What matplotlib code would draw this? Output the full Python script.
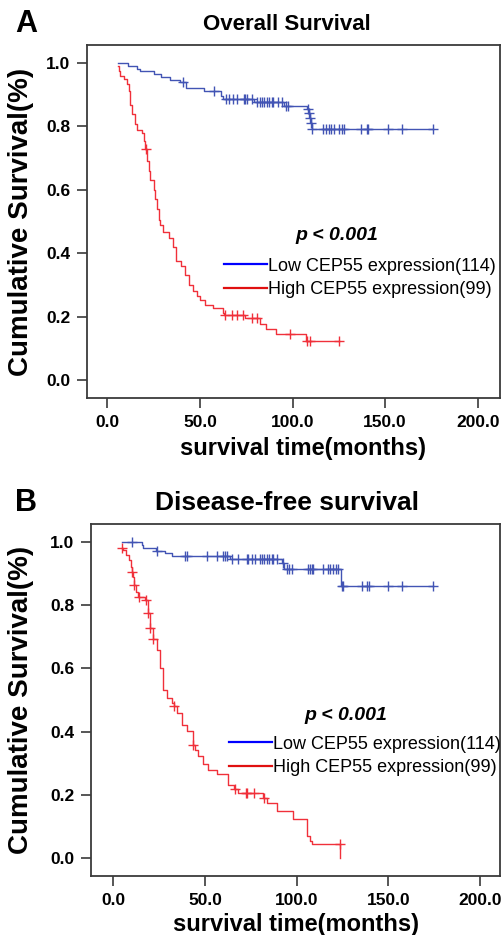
import numpy as np
import matplotlib
matplotlib.use("Agg")
import matplotlib.pyplot as plt
from matplotlib.lines import Line2D

plt.rcParams['font.family'] = ['Liberation Sans', 'DejaVu Sans']

# ---- data ----
# A: overall survival
os_low_t = [5.5, 11.1, 16.0, 17.8, 25.0, 29.1, 33.6, 39.4, 42.6, 52.0, 61.3, 62.5, 79.3,
            95.6, 107.7, 108.6, 109.3, 109.9, 110.4]
os_low_s = [1.0, 0.991, 0.982, 0.974, 0.965, 0.956, 0.947, 0.939, 0.922, 0.913, 0.895, 0.886,
            0.877, 0.865, 0.855, 0.843, 0.828, 0.812, 0.792]
os_low_cens = [40.6, 57.4, 64.2, 65.5, 68.0, 70.0, 73.6, 74.5, 75.4, 78.0, 80.7, 82.2, 83.4,
               84.7, 86.1, 87.4, 88.8, 89.7, 92.4, 94.2, 96.5, 97.8, 108.3, 109.0, 109.6,
               110.1, 110.6, 116.3, 118.1, 119.4, 120.7, 122.1, 125.3, 126.6, 127.5, 136.8,
               140.1, 140.9, 151.7, 158.9, 175.6]

os_high_t = [5.5, 6.1, 7.0, 8.8, 10.6, 11.5, 12.0, 12.4, 13.3, 15.1, 16.0, 18.7, 19.6, 20.5,
             21.4, 22.3, 23.2, 25.0, 25.9, 26.8, 27.7, 28.5, 30.3, 33.5, 35.2, 37.0, 40.0,
             42.0, 44.0, 46.5, 48.3, 50.1, 52.5, 57.3, 62.7, 63.2, 74.4, 82.5, 85.4, 91.3,
             107.5]
os_high_s = [0.99, 0.975, 0.960, 0.949, 0.933, 0.912, 0.890, 0.869, 0.838, 0.808, 0.790,
             0.780, 0.753, 0.730, 0.690, 0.658, 0.632, 0.600, 0.572, 0.540, 0.505, 0.490,
             0.466, 0.447, 0.418, 0.376, 0.360, 0.330, 0.300, 0.280, 0.265, 0.253, 0.237,
             0.226, 0.211, 0.205, 0.195, 0.178, 0.162, 0.145, 0.124]
os_high_cens = [20.7, 63.5, 67.2, 69.9, 73.5, 77.9, 81.0, 98.6, 107.9, 109.5, 125.0]

# B: disease-free survival
dfs_low_t = [4.6, 15.5, 16.4, 23.5, 28.2, 31.8, 63.6, 91.8, 93.3, 124.2]
dfs_low_s = [1.0, 0.991, 0.982, 0.973, 0.964, 0.955, 0.945, 0.935, 0.916, 0.860]
dfs_low_cens = [10.0, 24.0, 39.1, 40.4, 50.9, 56.4, 60.0, 60.9, 62.2, 64.6, 68.2, 72.7, 73.6,
                75.5, 77.3, 80.0, 81.3, 82.2, 83.7, 84.9, 86.4, 87.3, 89.1, 92.4, 94.6, 96.0,
                97.3, 106.4, 107.3, 108.2, 109.1, 114.5, 117.3, 118.2, 120.0, 121.3, 122.7,
                124.6, 125.4, 135.5, 138.5, 139.6, 150.0, 157.6, 174.2]

dfs_high_t = [4.6, 5.1, 6.9, 8.8, 9.5, 10.0, 10.6, 11.5, 12.4, 13.2, 17.5, 18.7, 19.1, 20.0,
              21.8, 23.6, 25.4, 27.2, 29.0, 31.8, 33.1, 34.6, 37.3, 40.0, 43.3, 44.6, 46.4,
              49.1, 51.8, 56.4, 62.7, 66.0, 68.0, 81.8, 83.6, 89.1, 97.8, 105.8, 107.0, 108.2,
              123.6]
dfs_high_s = [0.982, 0.974, 0.958, 0.942, 0.920, 0.906, 0.890, 0.864, 0.843, 0.827, 0.817,
              0.785, 0.774, 0.727, 0.692, 0.658, 0.601, 0.532, 0.506, 0.490, 0.482, 0.458,
              0.421, 0.401, 0.358, 0.343, 0.322, 0.298, 0.280, 0.267, 0.232, 0.217, 0.206,
              0.190, 0.174, 0.148, 0.122, 0.069, 0.055, 0.043, 0.0]
dfs_high_cens = [4.7, 10.0, 11.5, 13.8, 17.8, 19.1, 20.0, 21.8, 33.1, 43.3, 66.4, 72.2, 72.8,
                 76.7, 82.0, 123.5]

xticks = [0, 50, 100, 150, 200]
yticks = [0.0, 0.2, 0.4, 0.6, 0.8, 1.0]
labels = ['Low CEP55 expression(114)', 'High CEP55 expression(99)']

BLUE = '#4254b4'
RED = '#f0303a'
W, H = 504, 935


def km(ax, t, s, cens, color):
    t = np.asarray(t)
    s = np.asarray(s)
    end = max(t[-1], max(cens))
    ax.step(np.append(t, end), np.append(s, s[-1]), where='post', color=color, lw=1.0)
    idx = np.searchsorted(t, cens, side='right') - 1
    ax.plot(cens, s[idx], ls='none', marker='+', ms=7, mew=1.0, color=color)


def panel(rect, xlim, low, high, title, title_size, letter, letter_y, p_xy, leg_xy,
          xlab_x, xlab_y):
    l, b, w, h = rect
    ax = fig.add_axes([l / W, 1 - b / H, w / W, h / H])
    km(ax, *low, BLUE)
    km(ax, *high, RED)
    ax.set_xlim(*xlim)
    ax.set_ylim(-0.057, 1.057)
    ax.set_xticks(xticks)
    ax.set_xticklabels([f'{v:.1f}' for v in xticks])
    ax.set_yticks(yticks)
    ax.set_yticklabels([f'{v:.1f}' for v in yticks])
    for sp in ax.spines.values():
        sp.set_color('#3a3a3a')
        sp.set_linewidth(1.3)
    ax.tick_params(length=7, width=1.2, color='#3a3a3a', labelsize=12.5, pad=5)
    for tl in ax.get_xticklabels() + ax.get_yticklabels():
        tl.set_fontweight('bold')
    ax.set_ylabel('Cumulative Survival(%)', fontsize=20, fontweight='bold')
    ax.yaxis.set_label_coords(-(l - 34) / w, 0.5)
    fig.text(xlab_x / W, 1 - xlab_y / H, 'survival time(months)', fontsize=17,
             fontweight='bold', ha='center', va='center')
    fig.text(287 / W, 1 - letter_y / H, title, fontsize=title_size, fontweight='bold',
             ha='center', va='center')
    fig.text(26 / W, 1 - letter_y / H, letter, fontsize=22, fontweight='bold',
             ha='center', va='center')
    ax.text(*p_xy, 'p < 0.001', transform=ax.transAxes, fontsize=14, fontweight='bold',
            style='italic', ha='center', va='center')
    handles = [Line2D([], [], color='#0000ff', lw=1.6), Line2D([], [], color='#e01010', lw=1.6)]
    ax.legend(handles, labels, loc='upper left', bbox_to_anchor=leg_xy, frameon=False,
              fontsize=13, handlelength=2.4, handletextpad=0.05, borderpad=0,
              borderaxespad=0, labelspacing=0.35)
    return ax


fig = plt.figure(figsize=(W / 100, H / 100), dpi=100)

panel((87, 398, 413, 353), (-11, 212),
      (os_low_t, os_low_s, os_low_cens), (os_high_t, os_high_s, os_high_cens),
      'Overall Survival', 16, 'A', 24, (0.605, 0.459), (0.332, 0.398), 303, 448)

panel((91, 876, 409, 352), (-12.2, 210.9),
      (dfs_low_t, dfs_low_s, dfs_low_cens), (dfs_high_t, dfs_high_s, dfs_high_cens),
      'Disease-free survival', 19, 'B', 503, (0.623, 0.457), (0.337, 0.399), 296, 924)

fig.savefig('out.png', dpi=100)
